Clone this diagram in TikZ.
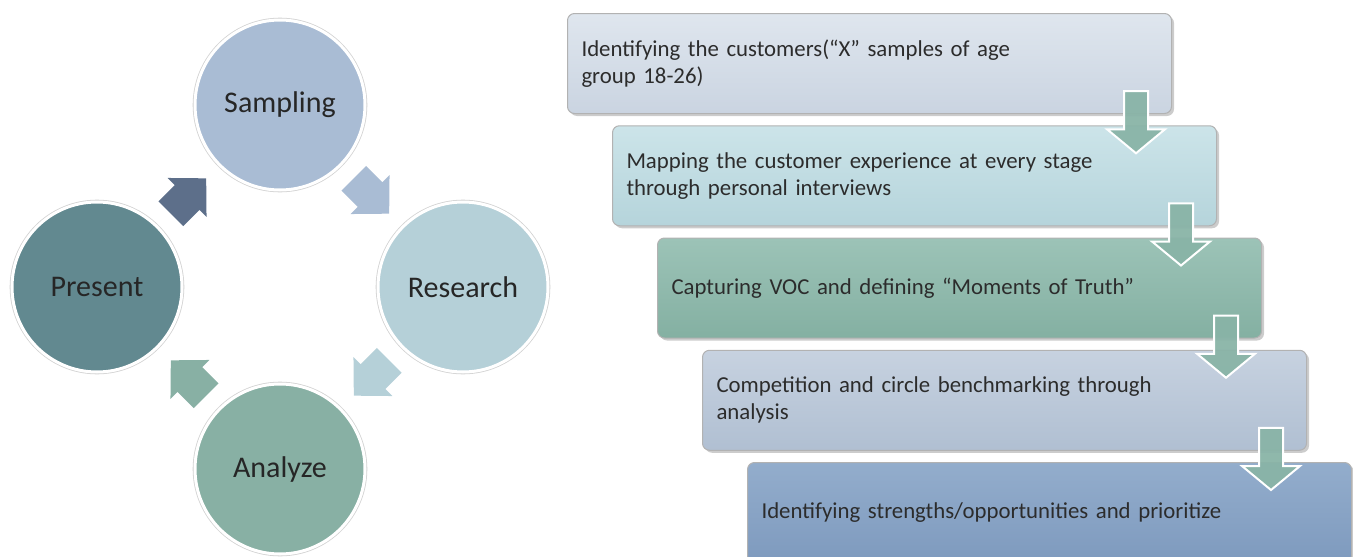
\documentclass[tikz,border=0pt]{standalone}
\usepackage{fontspec}
\setmainfont{Carlito}
\usetikzlibrary{calc,shadows}

% cycle colours
\definecolor{cSample}{HTML}{A9BCD4}
\definecolor{cResearch}{HTML}{B5D0D8}
\definecolor{cAnalyze}{HTML}{88B0A4}
\definecolor{cPresent}{HTML}{628990}
\definecolor{cArrowPS}{HTML}{5D6F8A}
% step box colours (top / bottom of the gradient)
\definecolor{bOneT}{HTML}{DFE6EE}\definecolor{bOneB}{HTML}{CAD4E1}
\definecolor{bTwoT}{HTML}{CCE4E9}\definecolor{bTwoB}{HTML}{B5D4DB}
\definecolor{bThrT}{HTML}{9CC3B7}\definecolor{bThrB}{HTML}{84B0A2}
\definecolor{bFouT}{HTML}{C7D2E0}\definecolor{bFouB}{HTML}{B0BFD2}
\definecolor{bFivT}{HTML}{93ADCC}\definecolor{bFivB}{HTML}{7E9ABE}
\definecolor{downArrow}{HTML}{89B4A7}
\definecolor{cycleText}{HTML}{262626}
\definecolor{boxText}{HTML}{2C2C2C}

\tikzset{
  cyclenode/.style={circle, minimum size=170pt, inner sep=0pt,
    draw=white, line width=3pt,
    preaction={draw=gray!35, line width=4.6pt},
    text=cycleText, font=\fontsize{30}{36}\selectfont},
  stepbox/.style={rectangle, rounded corners=7pt, anchor=north west,
    minimum width=604pt, minimum height=100pt, inner sep=0pt,
    text width=576pt, align=left,
    draw=white!70!black, line width=1pt,
    drop shadow={shadow xshift=2.5pt, shadow yshift=-2.5pt, opacity=0.4, fill=gray},
    text=boxText, font=\fontsize{22.8}{27}\selectfont},
  downarrow/.style={fill=downArrow, fill opacity=0.95, draw=white, line width=2pt, line join=miter},
}

% block arrow of the cycle: centred at #1, pointing towards angle #2, filled with #3
\newcommand\cyclearrow[3]{%
  \path[fill=#3, shift={#1}, rotate=#2]
    (-25,-17.5) -- (-2,-17.5) -- (-2,-27.5) -- (25,0) -- (-2,27.5) -- (-2,17.5) -- (-25,17.5) -- cycle;}

% down arrow from point #1 (top of the stem) to point #2 (tip)
\newcommand\steparrow[2]{%
  \draw[downarrow] let \p1=#1, \p2=#2 in
    (\x1-12,\y1) -- (\x1+12,\y1) -- (\x1+12,\y2+24) -- (\x1+29,\y2+24) -- (\x1,\y2)
    -- (\x1-29,\y2+24) -- (\x1-12,\y2+24) -- cycle;}

\begin{document}
\begin{tikzpicture}[x=1pt,y=-1pt]
\path[use as bounding box] (0,0) rectangle (1353,557);

% ---- cycle ----
\node[cyclenode, fill=cSample]   (S) at (280,105) {Sampling};
\node[cyclenode, fill=cResearch] (R) at (463,287) {Research};
\node[cyclenode, fill=cAnalyze]  (A) at (280,469) {Analyze};
\node[cyclenode, fill=cPresent]  (P) at (97,287)  {Present};

\cyclearrow{($(P)!0.5!(S)$)}{45}{cArrowPS}
\cyclearrow{($(S)!0.5!(R)$)}{-45}{cSample}
\cyclearrow{($(R)!0.5!(A)$)}{-135}{cResearch}
\cyclearrow{($(A)!0.5!(P)$)}{135}{cAnalyze}

% ---- steps ----
\node[stepbox, top color=bOneT, bottom color=bOneB] (b1) at (567,13)
  {Identifying the customers(“X” samples of age\\group 18-26)};
\node[stepbox, top color=bTwoT, bottom color=bTwoB] (b2) at (612,125.25)
  {Mapping the customer experience at every stage\\through personal interviews};
\node[stepbox, top color=bThrT, bottom color=bThrB] (b3) at (657,237.5)
  {Capturing VOC and defining “Moments of Truth”};
\node[stepbox, top color=bFouT, bottom color=bFouB] (b4) at (702,349.75)
  {Competition and circle benchmarking through\\analysis};
\node[stepbox, top color=bFivT, bottom color=bFivB] (b5) at (747,462)
  {Identifying strengths/opportunities and prioritize};

\steparrow{($(b1.south east)+(-36,-23)$)}{($(b2.north east)+(-36,28)$)}
\steparrow{($(b2.south east)+(-36,-23)$)}{($(b3.north east)+(-36,28)$)}
\steparrow{($(b3.south east)+(-36,-23)$)}{($(b4.north east)+(-36,28)$)}
\steparrow{($(b4.south east)+(-36,-23)$)}{($(b5.north east)+(-36,28)$)}
\end{tikzpicture}
\end{document}
